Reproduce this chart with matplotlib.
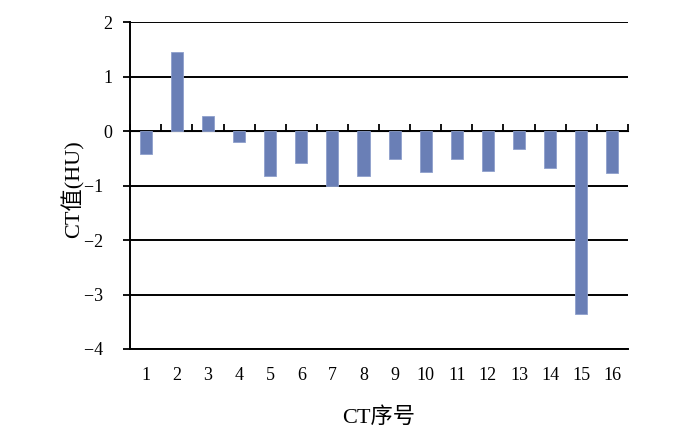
import matplotlib
matplotlib.use("Agg")
import matplotlib.pyplot as plt
import numpy as np

plt.rcParams['font.family'] = ['Liberation Serif', 'Noto Sans CJK SC', 'DejaVu Sans']
plt.rcParams['axes.unicode_minus'] = True

categories = [str(i) for i in range(1, 17)]
values = [-0.41, 1.45, 0.29, -0.20, -0.82, -0.58, -1.00, -0.83,
          -0.51, -0.75, -0.51, -0.73, -0.33, -0.67, -3.36, -0.76]
yticks = [2, 1, 0, -1, -2, -3, -4]
ytick_labels = ['2', '1', '0', '\u22121  ', '\u22122  ', '\u22123  ', '\u22124  ']

fig = plt.figure(figsize=(7, 4.46), dpi=100)
ax = fig.add_axes([0.186, 0.2175, 0.711, 0.7321])

x = np.arange(len(categories))
ax.bar(x, values, width=0.39, color='#6a7fb6', edgecolor='#8ea0cc', linewidth=0.6, zorder=3)

ax.set_xlim(-0.5, len(categories) - 0.5)
ax.set_ylim(-4, 2)
ax.set_yticks(yticks)
ax.set_yticklabels(ytick_labels, fontsize=13)
ax.yaxis.grid(True, color='black', linewidth=1.4, zorder=1)
ax.set_axisbelow(True)

ax.set_xticks(x)
ax.set_xticklabels(categories, fontsize=13)
ax.tick_params(axis='x', length=0, pad=13)
ax.tick_params(axis='y', direction='out', length=5, width=1.3, pad=8)

for s in ['top', 'right']:
    ax.spines[s].set_visible(False)
ax.spines['left'].set_linewidth(1.4)
ax.spines['bottom'].set_linewidth(1.4)

# category axis crossing at zero with tick marks between categories
sec = ax.secondary_xaxis(4 / 6)
sec.set_xticks(np.arange(len(categories) + 1) - 0.5)
sec.set_xticklabels([])
sec.tick_params(direction='out', length=5, width=1.3)
sec.spines['bottom'].set_linewidth(1.4)

ax.set_xlabel('CT序号', fontsize=16, labelpad=17)
ax.set_ylabel('CT值(HU)', fontsize=16)
ax.yaxis.set_label_coords(-0.092, 0.49)

fig.savefig('out.png', dpi=100)
